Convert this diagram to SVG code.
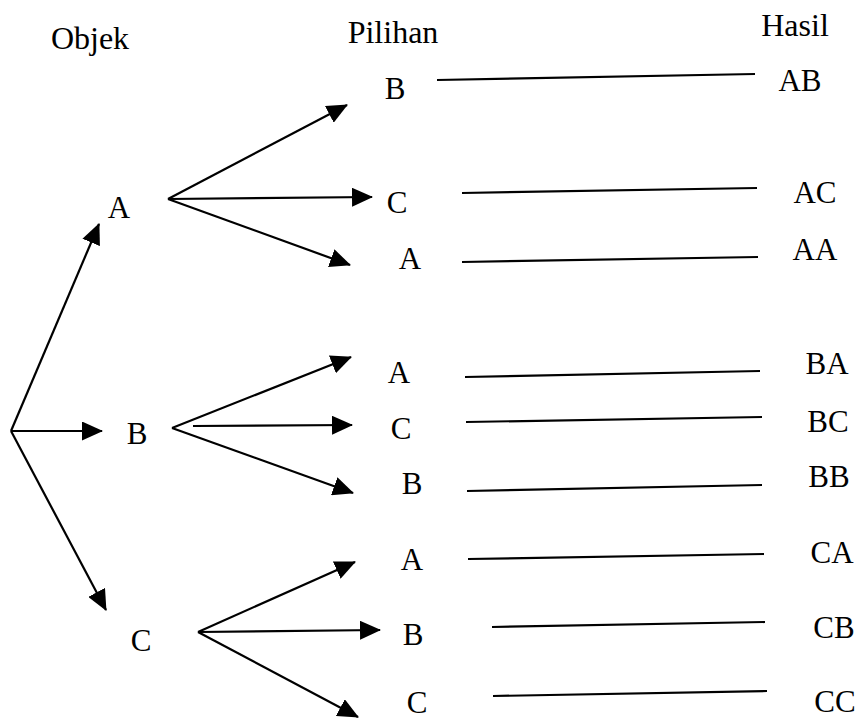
<svg xmlns="http://www.w3.org/2000/svg" width="860" height="720" viewBox="0 0 860 720">
<style>
text{font-family:"Liberation Serif","DejaVu Serif",serif;fill:#000;text-anchor:middle}
.h{font-size:32px}
.n{font-size:31px}
.c line{stroke:#000;stroke-width:2.2;fill:none}
.c .a{marker-end:url(#ah)}
</style>
<defs>
<marker id="ah" markerUnits="userSpaceOnUse" markerWidth="21" markerHeight="19" refX="20" refY="9.5" orient="auto" viewBox="0 0 21 19">
<path d="M0,0 L21,9.5 L0,19 z" fill="#000"/>
</marker>
</defs>
<rect width="860" height="720" fill="#fff"/>
<g id="headers">
<text class="h" x="90" y="49">Objek</text>
<text class="h" x="393" y="43">Pilihan</text>
<text class="h" x="795" y="36">Hasil</text>
</g>
<g class="c" id="connectors">
<line class="a" x1="11" y1="431" x2="99" y2="224"/>
<line class="a" x1="11" y1="431" x2="102" y2="431"/>
<line class="a" x1="11" y1="431" x2="106" y2="610"/>
<line class="a" x1="168" y1="199" x2="347" y2="105"/>
<line class="a" x1="168" y1="199" x2="372" y2="197"/>
<line class="a" x1="168" y1="199" x2="350" y2="265"/>
<line class="a" x1="172" y1="428" x2="351" y2="357"/>
<line class="a" x1="193" y1="426" x2="352" y2="425"/>
<line class="a" x1="172" y1="428" x2="353" y2="493"/>
<line class="a" x1="198" y1="632" x2="355" y2="562"/>
<line class="a" x1="198" y1="632" x2="380" y2="630"/>
<line class="a" x1="198" y1="632" x2="358" y2="717"/>
<line x1="437" y1="80" x2="755" y2="74"/>
<line x1="462" y1="193" x2="757" y2="188"/>
<line x1="462" y1="262" x2="758" y2="257"/>
<line x1="465" y1="377" x2="760" y2="371"/>
<line x1="466" y1="422" x2="762" y2="417"/>
<line x1="467" y1="491" x2="762" y2="485"/>
<line x1="468" y1="559" x2="764" y2="554"/>
<line x1="492" y1="627" x2="765" y2="622"/>
<line x1="493" y1="696" x2="767" y2="691"/>
</g>
<g id="node-A"><text class="n" x="119" y="218">A</text></g>
<g id="node-B"><text class="n" x="137" y="444">B</text></g>
<g id="node-C"><text class="n" x="141" y="651">C</text></g>
<g id="node-AB"><text class="n" x="395" y="99">B</text></g>
<g id="node-AC"><text class="n" x="397" y="213">C</text></g>
<g id="node-AA"><text class="n" x="410" y="269">A</text></g>
<g id="node-BA"><text class="n" x="399" y="383">A</text></g>
<g id="node-BC"><text class="n" x="401" y="439">C</text></g>
<g id="node-BB"><text class="n" x="412" y="494">B</text></g>
<g id="node-CA"><text class="n" x="412" y="570">A</text></g>
<g id="node-CB"><text class="n" x="413" y="645">B</text></g>
<g id="node-CC"><text class="n" x="417" y="713">C</text></g>
<g id="res-AB"><text class="n" x="800" y="91">AB</text></g>
<g id="res-AC"><text class="n" x="815" y="203">AC</text></g>
<g id="res-AA"><text class="n" x="815" y="260">AA</text></g>
<g id="res-BA"><text class="n" x="827" y="374">BA</text></g>
<g id="res-BC"><text class="n" x="828" y="432">BC</text></g>
<g id="res-BB"><text class="n" x="829" y="487">BB</text></g>
<g id="res-CA"><text class="n" x="832" y="563">CA</text></g>
<g id="res-CB"><text class="n" x="834" y="638">CB</text></g>
<g id="res-CC"><text class="n" x="835" y="712">CC</text></g>
</svg>
